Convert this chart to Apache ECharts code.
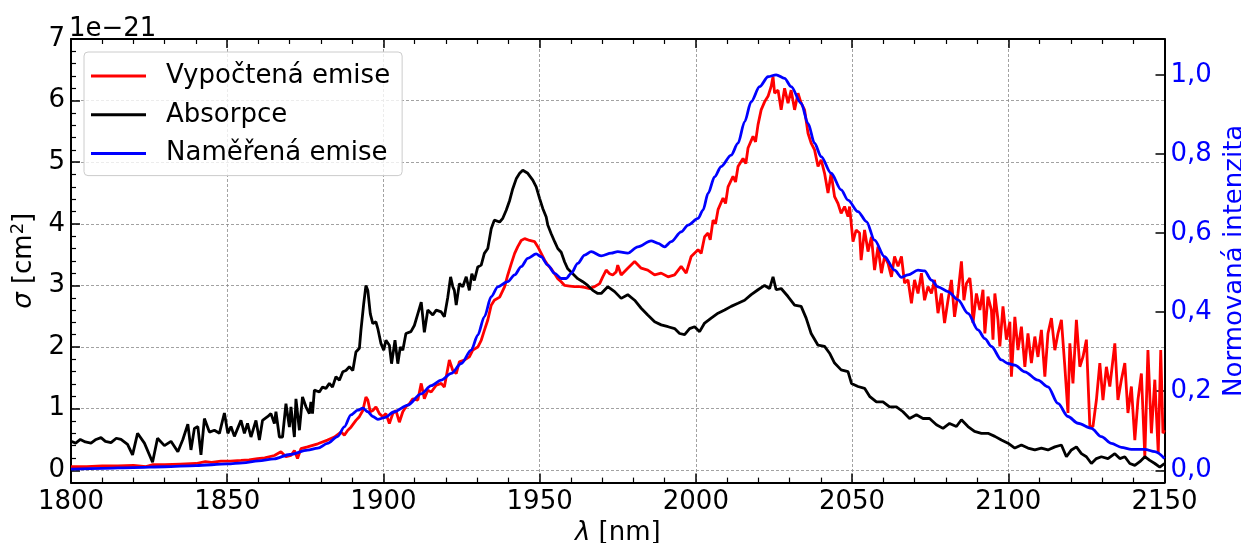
<!DOCTYPE html>
<html>
<head>
<meta charset="utf-8">
<script src="https://cdn.jsdelivr.net/npm/echarts@6/dist/echarts.min.js"></script>
<style>html,body{margin:0;padding:0;background:#fff;}#c{width:1241px;height:543px;}</style>
</head>
<body>
<div id="c"></div>
<script>
// ---- data (x in nm) ----
const seriesNames = ['Vypočtená emise', 'Absorpce', 'Naměřená emise'];
const leftTicks = [0, 1, 2, 3, 4, 5, 6, 7];
const leftMinorTicks = [0.2,0.4,0.6,0.8,1.2,1.4,1.6,1.8,2.2,2.4,2.6,2.8,3.2,3.4,3.6,3.8,4.2,4.4,4.6,4.8,5.2,5.4,5.6,5.8,6.2,6.4,6.6,6.8];
const rightTicks = [0, 0.2, 0.4, 0.6, 0.8, 1.0];

// Vypočtená emise (left axis, 1e-21 cm^2)
const emiseVypoctena = [
[1800,0.06],[1805,0.06],[1810,0.07],[1815,0.07],[1820,0.08],[1824,0.06],[1826,0.09],[1830,0.09],[1835,0.1],[1840,0.11],[1843,0.14],[1845,0.13],[1848,0.15],[1851,0.15],[1854.4,0.16],[1857,0.17],[1859.7,0.19],[1862,0.2],[1865.1,0.24],[1867.2,0.3],[1868.8,0.22],[1870.4,0.24],[1871.5,0.32],[1872.5,0.19],[1873.6,0.35],[1875.7,0.38],[1879,0.43],[1882.1,0.49],[1884.3,0.54],[1886.4,0.62],[1887.5,0.57],[1888.6,0.65],[1889.6,0.7],[1891.2,0.81],[1892.3,0.87],[1893.4,0.97],[1894.4,1.19],[1895,1.14],[1895.8,0.95],[1896.6,0.97],[1897.6,1.03],[1898.7,0.92],[1899.8,0.87],[1900.8,0.92],[1901.9,0.76],[1903,0.92],[1904,0.97],[1905.1,0.78],[1906.2,0.95],[1907.2,1.03],[1908.3,1.08],[1909.4,1.16],[1911,1.14],[1912.1,1.41],[1913.1,1.16],[1914.2,1.3],[1915.3,1.27],[1916.9,1.38],[1918.5,1.41],[1919.5,1.35],[1921.1,1.79],[1922.2,1.62],[1923.3,1.57],[1924.3,1.76],[1925.9,1.79],[1927.5,1.84],[1928.6,1.95],[1930.2,2.0],[1931.3,2.11],[1932.3,2.27],[1933.4,2.44],[1934.5,2.68],[1935.5,2.76],[1937.2,2.81],[1938.8,2.98],[1939.8,3.17],[1940.9,3.35],[1942,3.52],[1943,3.63],[1944.1,3.73],[1945.2,3.76],[1946.8,3.73],[1948.4,3.71],[1949.4,3.63],[1950.5,3.52],[1951.6,3.41],[1952.6,3.33],[1953.7,3.27],[1954.8,3.19],[1955.8,3.11],[1956.9,3.06],[1958,3.0],[1959.6,2.99],[1961.2,2.98],[1962.8,2.98],[1964.4,2.97],[1966,2.95],[1967.6,2.98],[1969.2,3.03],[1970.2,3.14],[1971.3,3.25],[1972.4,3.19],[1973.4,3.17],[1974.5,3.22],[1975,3.33],[1976.1,3.17],[1978.2,3.28],[1980.4,3.39],[1982.5,3.28],[1984.6,3.25],[1986.8,3.17],[1988.9,3.2],[1991.1,3.14],[1993.2,3.17],[1995.3,3.31],[1996.9,3.2],[1998.5,3.47],[2000.7,3.58],[2001.7,3.52],[2002.8,3.79],[2003.9,3.85],[2004.6,3.74],[2005.5,4.06],[2006.3,4.0],[2007.1,4.23],[2008.7,4.42],[2009.5,4.33],[2010.3,4.6],[2011.9,4.77],[2012.7,4.68],[2013.5,4.93],[2015.1,5.06],[2016,4.98],[2016.7,5.23],[2018.3,5.42],[2019.1,5.33],[2019.9,5.61],[2020.9,5.85],[2022,5.98],[2023.1,6.07],[2024.1,6.23],[2024.7,6.39],[2025.2,6.12],[2026.3,6.17],[2027.3,5.85],[2028.4,6.2],[2029.5,5.96],[2030.5,6.17],[2031.6,5.85],[2032.7,6.12],[2033.7,5.96],[2034.8,5.85],[2035.9,5.47],[2036.9,5.31],[2038,5.2],[2039.1,4.93],[2040.1,5.04],[2041.2,4.82],[2042.3,4.5],[2043.3,4.82],[2044.4,4.44],[2045.5,4.33],[2046.5,4.17],[2047.6,4.28],[2048.7,4.12],[2049.2,4.28],[2050.3,3.71],[2051.3,3.9],[2052.4,3.85],[2052.9,3.41],[2054,3.9],[2055.1,3.55],[2056.2,3.79],[2057.2,3.25],[2058.3,3.63],[2059.4,3.2],[2060.4,3.47],[2061.5,3.36],[2062.6,3.14],[2063.6,3.47],[2064.7,3.31],[2065.8,3.47],[2066.8,3.04],[2067.9,3.09],[2069,2.71],[2070,3.09],[2071.1,2.87],[2072.2,3.2],[2073.2,2.76],[2074.3,2.98],[2075.4,2.87],[2076.4,3.09],[2077.5,2.55],[2078.6,2.87],[2079.6,2.39],[2080.7,2.76],[2081.8,3.09],[2082.8,2.49],[2083.9,2.87],[2085,3.39],[2085.8,2.76],[2086.6,3.03],[2087.7,3.12],[2088.2,2.87],[2088.7,2.39],[2089.8,2.87],[2090.9,2.6],[2091.9,2.93],[2092.5,2.22],[2093.5,2.82],[2094.6,2.6],[2095.1,2.12],[2095.7,2.87],[2096.7,2.44],[2097.3,2.01],[2098.3,2.66],[2099.4,2.12],[2100.5,2.41],[2101,1.52],[2102.1,2.49],[2103.1,1.95],[2104.2,2.33],[2105.3,1.68],[2106.3,2.22],[2107.4,1.74],[2108.5,2.17],[2109.5,1.84],[2110.6,2.28],[2111.7,1.52],[2112.7,2.22],[2113.8,2.47],[2114.9,1.95],[2115.9,2.22],[2117,2.44],[2118.1,1.68],[2119.1,0.93],[2119.7,2.06],[2120.7,1.41],[2121.8,2.44],[2122.9,1.68],[2123.9,1.84],[2125,2.12],[2126.1,0.71],[2127.1,0.71],[2128.2,1.14],[2129.3,1.74],[2130.3,1.14],[2131.4,1.68],[2132.5,1.36],[2134.1,2.06],[2135.1,1.14],[2136.2,1.47],[2137.3,1.74],[2138.3,0.93],[2139.4,1.36],[2140.5,0.49],[2141.5,1.14],[2142.6,1.57],[2143.7,0.22],[2144.7,1.95],[2145.8,0.6],[2146.9,1.47],[2148,0.28],[2148.8,1.95],[2149.5,0.6],[2150,0.65]
];

// Absorpce (left axis, 1e-21 cm^2)
const absorpce = [
[1800,0.47],[1801.5,0.44],[1803,0.5],[1804.6,0.46],[1806.4,0.44],[1808,0.5],[1809.6,0.53],[1811,0.47],[1812.8,0.45],[1814.5,0.52],[1816,0.5],[1818.1,0.42],[1819.7,0.25],[1821.3,0.6],[1823.5,0.44],[1826.1,0.13],[1827.7,0.52],[1829.9,0.4],[1832,0.47],[1834.2,0.3],[1835.8,0.5],[1837.4,0.75],[1838.4,0.33],[1839.5,0.68],[1840.6,0.71],[1841.6,0.25],[1842.7,0.84],[1844.3,0.62],[1845.9,0.65],[1847.5,0.6],[1849.1,0.93],[1850.2,0.6],[1851.2,0.71],[1852.3,0.55],[1854.4,0.81],[1855.5,0.6],[1856.5,0.76],[1857.6,0.54],[1859.2,0.81],[1860.3,0.49],[1861.3,0.81],[1862.9,0.87],[1864,0.92],[1865.1,0.76],[1865.6,0.95],[1866.7,0.54],[1867.7,0.54],[1868.8,1.08],[1869.9,0.7],[1870.4,1.03],[1871.5,0.54],[1872,1.16],[1873.1,0.65],[1874.1,1.19],[1875.2,1.03],[1876.3,0.92],[1876.8,1.11],[1877.3,0.92],[1877.9,1.3],[1879.5,1.27],[1880.5,1.35],[1881.6,1.33],[1882.7,1.41],[1883.7,1.35],[1884.8,1.52],[1885.9,1.46],[1887,1.6],[1888,1.62],[1889.1,1.68],[1890.2,1.62],[1891.2,1.92],[1892.3,1.98],[1892.8,2.27],[1893.7,2.71],[1894.4,3.0],[1895,2.92],[1895.8,2.54],[1896.6,2.38],[1897.6,2.41],[1898.2,2.3],[1899.2,2.06],[1900.1,1.95],[1900.8,2.11],[1901.9,2.03],[1902.6,1.73],[1903.7,2.11],[1904.6,1.73],[1905.4,2.0],[1906.2,1.95],[1907.2,2.22],[1908.8,2.25],[1909.9,2.35],[1911,2.54],[1912.1,2.73],[1913.1,2.24],[1914.2,2.6],[1915.8,2.52],[1916.9,2.6],[1918.5,2.57],[1919.5,2.49],[1920.6,2.81],[1921.5,3.14],[1922.2,2.98],[1922.7,2.92],[1923.3,2.68],[1924.3,3.03],[1925.4,2.98],[1926.5,3.14],[1927.5,2.92],[1928.3,3.19],[1929.1,3.08],[1930.2,3.3],[1931.3,3.33],[1932.3,3.52],[1933.4,3.6],[1934.5,3.92],[1935.5,4.06],[1937.2,4.03],[1938.2,4.09],[1939.3,4.22],[1940.4,4.38],[1941.4,4.57],[1942.5,4.73],[1943.6,4.82],[1944.6,4.87],[1945.2,4.9],[1946.2,4.82],[1946.8,4.79],[1947.8,4.71],[1948.9,4.6],[1950,4.41],[1951,4.25],[1952.1,4.11],[1952.6,3.98],[1953.7,3.84],[1954.8,3.71],[1955.8,3.6],[1956.9,3.54],[1958,3.38],[1959,3.27],[1960.6,3.19],[1962.2,3.11],[1963.8,3.06],[1965.4,3.0],[1967,2.92],[1968.6,2.87],[1969.7,2.87],[1971.8,2.98],[1974,2.9],[1976.1,2.79],[1978.2,2.85],[1980.4,2.76],[1982.5,2.63],[1984.6,2.52],[1986.8,2.41],[1988.9,2.36],[1991.1,2.33],[1993.2,2.3],[1994.8,2.22],[1996.4,2.2],[1998,2.3],[1999.6,2.33],[2001.2,2.25],[2002.8,2.39],[2004.9,2.47],[2007.1,2.55],[2009.2,2.6],[2011.3,2.66],[2013.5,2.71],[2015.6,2.76],[2017.7,2.85],[2019.9,2.93],[2022,3.0],[2023.6,2.95],[2024.7,3.14],[2025.7,2.93],[2027.3,2.95],[2029.5,2.82],[2031.6,2.68],[2033.7,2.66],[2035.3,2.47],[2036.9,2.22],[2039.1,2.03],[2041.2,2.01],[2042.8,1.9],[2044.4,1.74],[2046.5,1.63],[2048.7,1.6],[2049.8,1.41],[2051.9,1.36],[2054,1.33],[2055.6,1.2],[2057.8,1.11],[2059.9,1.11],[2062,1.03],[2064.2,1.03],[2066.3,0.95],[2068.4,0.84],[2070.6,0.9],[2072.7,0.84],[2074.8,0.84],[2077,0.74],[2079.1,0.68],[2081.2,0.76],[2083.4,0.71],[2085,0.82],[2087.1,0.71],[2089.2,0.63],[2091.4,0.6],[2093.5,0.6],[2095.7,0.55],[2097.8,0.49],[2099.9,0.44],[2102.1,0.36],[2104.2,0.41],[2106.3,0.36],[2108.5,0.33],[2110.6,0.36],[2112.7,0.33],[2114.9,0.38],[2117,0.41],[2118.6,0.22],[2120.2,0.33],[2121.8,0.38],[2123.4,0.27],[2125,0.22],[2126.6,0.11],[2128.2,0.19],[2129.8,0.22],[2131.9,0.19],[2134.1,0.27],[2135.7,0.19],[2137.3,0.22],[2138.9,0.11],[2140.5,0.08],[2142.1,0.14],[2143.7,0.22],[2145.3,0.16],[2146.9,0.11],[2148.5,0.05],[2150,0.11]
];

// Naměřená emise (right axis, normalised)
const emiseNamerena = [
[1800,0.003],[1810,0.005],[1820,0.007],[1830,0.009],[1840,0.012],[1850,0.016],[1855,0.019],[1860,0.024],[1865,0.029],[1870,0.04],[1875.7,0.051],[1879,0.056],[1882.1,0.068],[1885.3,0.085],[1887.5,0.11],[1889.6,0.14],[1891.8,0.152],[1893.4,0.157],[1895,0.148],[1896.6,0.136],[1898.2,0.129],[1900.3,0.133],[1903.5,0.148],[1907.8,0.165],[1912,0.193],[1915.3,0.214],[1918.5,0.228],[1921.7,0.245],[1924.9,0.27],[1928.1,0.304],[1930.2,0.342],[1932.3,0.388],[1934.5,0.439],[1936.6,0.464],[1939.8,0.477],[1942,0.494],[1944.1,0.515],[1946.2,0.536],[1948.9,0.547],[1950.5,0.54],[1952.6,0.519],[1954.8,0.498],[1956.9,0.485],[1958.5,0.485],[1960.1,0.498],[1962.2,0.523],[1964.4,0.544],[1966.5,0.553],[1969.7,0.542],[1972.9,0.549],[1975,0.553],[1978.2,0.549],[1981.4,0.565],[1985.7,0.58],[1987.9,0.574],[1990,0.565],[1992.1,0.578],[1995.3,0.603],[1997.5,0.62],[2000.7,0.637],[2002.3,0.658],[2003.9,0.7],[2006,0.742],[2008.1,0.768],[2011.3,0.797],[2013.5,0.827],[2015.6,0.881],[2017.7,0.932],[2020.4,0.97],[2023.1,0.995],[2025.7,1.0],[2028.4,0.991],[2030.5,0.97],[2033.7,0.928],[2035.9,0.877],[2038,0.827],[2040.1,0.793],[2043.3,0.751],[2046.5,0.709],[2048.7,0.683],[2051.9,0.654],[2054.6,0.629],[2057.2,0.582],[2060.4,0.54],[2063.6,0.506],[2065.8,0.488],[2067.9,0.494],[2071.1,0.506],[2073.2,0.504],[2075.4,0.481],[2077.5,0.464],[2080.7,0.452],[2083.9,0.431],[2087.1,0.397],[2090.3,0.355],[2092.5,0.333],[2094.6,0.313],[2097.8,0.279],[2099.9,0.27],[2102.1,0.266],[2105.3,0.249],[2109.5,0.228],[2112.7,0.211],[2115.9,0.169],[2119.1,0.136],[2122.3,0.119],[2126.6,0.106],[2129.8,0.085],[2133,0.068],[2136.2,0.058],[2139.4,0.053],[2143.7,0.053],[2146.9,0.047],[2150,0.03]
];

// ---- chart ----
const FONT = 'DejaVu Sans';
const chart = echarts.init(document.getElementById('c'), null, {renderer: 'canvas', width: 1241, height: 543});
const spine = {show: true, onZero: false, lineStyle: {color: '#000', width: 2}};
const gridLine = {show: true, lineStyle: {color: '#8a8a8a', width: 0.8, type: [3, 2]}};
const majorTick = {show: true, inside: true, length: 9, lineStyle: {color: '#000', width: 1.5}};
const minorTick = {show: true, splitNumber: 5, length: 5, lineStyle: {color: '#000', width: 1.2}};
const tok = {fontSize: 26, fontFamily: FONT, color: '#000', verticalAlign: 'bottom'};

chart.setOption({
  animation: false,
  backgroundColor: '#fff',
  grid: {left: 71, right: 76.5, top: 39, bottom: 60.4, containLabel: false, outerBoundsMode: 'none'},
  legend: {
    data: seriesNames, orient: 'vertical', left: 84, top: 52,
    padding: [11, 12, 9, 7], itemGap: 12.8, itemWidth: 55, itemHeight: 3, icon: 'rect',
    textStyle: {fontSize: 26, color: '#000', fontFamily: FONT, padding: [0, 0, 0, 15]},
    backgroundColor: 'rgba(255,255,255,0.8)', borderColor: '#cccccc', borderWidth: 1, borderRadius: 4
  },
  graphic: [{
    type: 'text', left: 69, top: 16,
    style: {text: '1e\u221221', font: '26px "DejaVu Sans"', fill: '#000'}
  }],
  xAxis: [
    {
      type: 'value', position: 'bottom', min: 1800, max: 2150, interval: 50,
      axisLine: spine, axisTick: majorTick, minorTick: minorTick,
      axisLabel: {margin: 7, fontSize: 26, color: '#000', fontFamily: FONT, formatter: v => String(v)},
      splitLine: gridLine,
      name: '{i|\u03bb} [nm]', nameLocation: 'middle', nameGap: 35,
      nameTextStyle: {fontSize: 26, color: '#000', fontFamily: FONT,
        rich: {i: {fontStyle: 'italic', fontSize: 26, fontFamily: FONT, color: '#000'}}}
    },
    {
      type: 'value', position: 'top', min: 1800, max: 2150, interval: 50,
      axisLine: spine, axisTick: majorTick, minorTick: minorTick,
      axisLabel: {show: false}, splitLine: {show: false}
    }
  ],
  yAxis: [
    {
      type: 'value', position: 'left', min: -0.2, max: 7,
      axisLine: spine,
      axisTick: Object.assign({}, majorTick, {customValues: leftTicks}),
      axisLabel: {customValues: leftTicks, margin: 6, fontSize: 26, color: '#000', fontFamily: FONT},
      splitLine: gridLine,
      name: '{i|\u03c3}{n| [cm}{sup|2}{n|]}', nameLocation: 'middle', nameGap: 21, nameRotate: 90,
      nameTextStyle: {fontSize: 26, color: '#000', fontFamily: FONT,
        rich: {
          i: Object.assign({}, tok, {fontStyle: 'italic'}),
          n: tok,
          sup: Object.assign({}, tok, {fontSize: 18, padding: [0, 0, 10, 0]})
        }}
    },
    {
      type: 'value', position: 'right', min: -0.0311, max: 1.0905,
      axisLine: spine,
      axisTick: Object.assign({}, majorTick, {customValues: rightTicks}),
      axisLabel: {customValues: rightTicks, margin: 6, fontSize: 26, color: '#0000ff', fontFamily: FONT,
        formatter: v => v.toFixed(1).replace('.', ',')},
      splitLine: {show: false},
      name: 'Normovaná intenzita', nameLocation: 'middle', nameGap: 54, nameRotate: 90,
      nameTextStyle: {fontSize: 26, color: '#0000ff', fontFamily: FONT}
    },
    {
      type: 'value', position: 'left', min: -0.2, max: 7,
      axisLine: {show: false},
      axisTick: {show: true, inside: true, length: 5, customValues: leftMinorTicks, lineStyle: {color: '#000', width: 1.2}},
      axisLabel: {show: false}, splitLine: {show: false}
    }
  ],
  series: [
    {name: seriesNames[0], type: 'line', xAxisIndex: 0, yAxisIndex: 0, data: emiseVypoctena,
      showSymbol: false, symbol: 'none', lineStyle: {color: '#ff0000', width: 2.8}, itemStyle: {color: '#ff0000'}, z: 2},
    {name: seriesNames[1], type: 'line', xAxisIndex: 0, yAxisIndex: 0, data: absorpce,
      showSymbol: false, symbol: 'none', lineStyle: {color: '#000000', width: 2.8}, itemStyle: {color: '#000000'}, z: 3},
    {name: seriesNames[2], type: 'line', xAxisIndex: 0, yAxisIndex: 1, data: emiseNamerena,
      showSymbol: false, symbol: 'none', smooth: 0.3, smoothMonotone: 'x',
      lineStyle: {color: '#0000ff', width: 2.8}, itemStyle: {color: '#0000ff'}, z: 4}
  ]
});
</script>
</body>
</html>
